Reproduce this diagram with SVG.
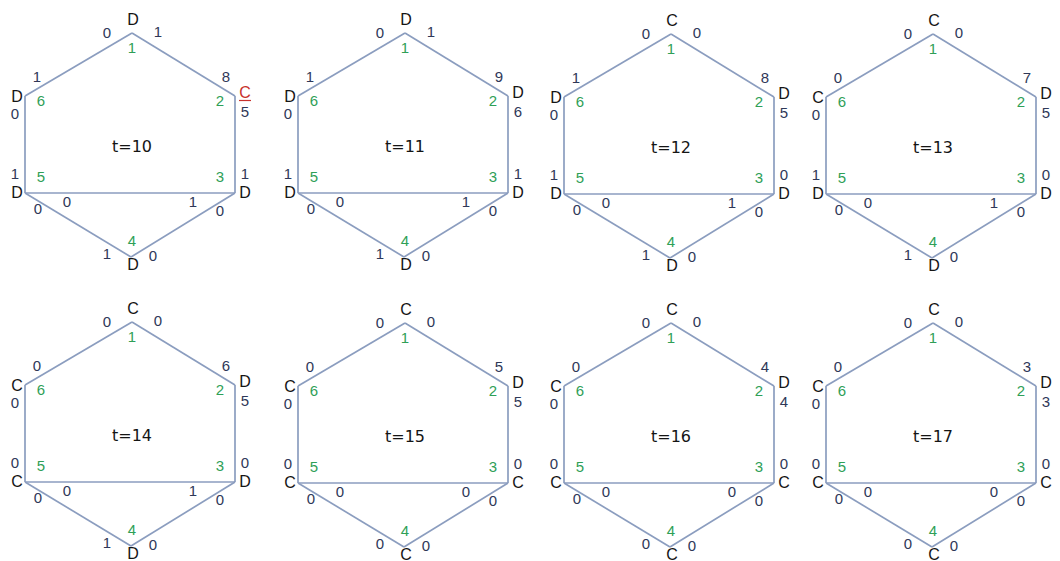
<svg xmlns="http://www.w3.org/2000/svg" xmlns:xlink="http://www.w3.org/1999/xlink" width="1060" height="561" viewBox="0 0 1060 561">
<style>
.e{stroke:#8b9dbf;stroke-width:1.7;fill:none}
text{font-family:"Liberation Sans",Arial,sans-serif;text-anchor:middle}
.n{font-size:16px;fill:#151515}
.r{font-size:16px;fill:#c8312c}
.v{font-size:15px;fill:#2f3858}
.g{font-size:15px;fill:#2f9f57}
.t{font-size:16px;fill:#151515;font-family:"DejaVu Sans",sans-serif}
</style>
<defs>
<g id="hex" class="e">
<line x1="107" y1="0" x2="210" y2="63"/>
<line x1="210" y1="63" x2="210" y2="160"/>
<line x1="210" y1="160" x2="106" y2="224"/>
<line x1="106" y1="224" x2="0" y2="160"/>
<line x1="0" y1="160" x2="0" y2="63"/>
<line x1="0" y1="63" x2="107" y2="0"/>
<line x1="0" y1="160" x2="210" y2="160"/>
</g>
</defs>
<rect width="1060" height="561" fill="#ffffff"/>

<!-- t=10 -->
<g id="panel-t10" transform="translate(25,33)">
<g id="t10-connectors"><use xlink:href="#hex" href="#hex"/></g>
<g id="t10-n1"><text class="n" x="108" y="-8">D</text><text class="g" x="107" y="20">1</text><text class="v" x="82" y="5">0</text><text class="v" x="133" y="4">1</text></g>
<g id="t10-n2"><text class="r" x="220" y="65">C</text><line x1="214" y1="67.5" x2="226" y2="67.5" stroke="#c8312c" stroke-width="1.2"/><text class="g" x="195" y="73">2</text><text class="v" x="201" y="49">8</text><text class="v" x="220" y="84">5</text></g>
<g id="t10-n3"><text class="n" x="220" y="165">D</text><text class="g" x="195" y="149">3</text><text class="v" x="220" y="146">1</text><text class="v" x="168" y="174">1</text><text class="v" x="195" y="183">0</text></g>
<g id="t10-n4"><text class="n" x="108" y="237">D</text><text class="g" x="107" y="213">4</text><text class="v" x="82" y="226">1</text><text class="v" x="128" y="228">0</text></g>
<g id="t10-n5"><text class="n" x="-8" y="165">D</text><text class="g" x="16" y="149">5</text><text class="v" x="-10" y="146">1</text><text class="v" x="42" y="174">0</text><text class="v" x="13" y="181">0</text></g>
<g id="t10-n6"><text class="n" x="-8" y="69">D</text><text class="g" x="16" y="73">6</text><text class="v" x="12" y="49">1</text><text class="v" x="-10" y="86">0</text></g>
<text class="t" x="107" y="119">t=10</text>
</g>

<!-- t=11 -->
<g id="panel-t11" transform="translate(298,33)">
<g id="t11-connectors"><use xlink:href="#hex" href="#hex"/></g>
<g id="t11-n1"><text class="n" x="108" y="-8">D</text><text class="g" x="107" y="20">1</text><text class="v" x="82" y="5">0</text><text class="v" x="133" y="4">1</text></g>
<g id="t11-n2"><text class="n" x="220" y="65">D</text><text class="g" x="195" y="73">2</text><text class="v" x="201" y="49">9</text><text class="v" x="220" y="84">6</text></g>
<g id="t11-n3"><text class="n" x="220" y="165">D</text><text class="g" x="195" y="149">3</text><text class="v" x="220" y="146">1</text><text class="v" x="168" y="174">1</text><text class="v" x="195" y="183">0</text></g>
<g id="t11-n4"><text class="n" x="108" y="237">D</text><text class="g" x="107" y="213">4</text><text class="v" x="82" y="226">1</text><text class="v" x="128" y="228">0</text></g>
<g id="t11-n5"><text class="n" x="-8" y="165">D</text><text class="g" x="16" y="149">5</text><text class="v" x="-10" y="146">1</text><text class="v" x="42" y="174">0</text><text class="v" x="13" y="181">0</text></g>
<g id="t11-n6"><text class="n" x="-8" y="69">D</text><text class="g" x="16" y="73">6</text><text class="v" x="12" y="49">1</text><text class="v" x="-10" y="86">0</text></g>
<text class="t" x="107" y="119">t=11</text>
</g>

<!-- t=12 -->
<g id="panel-t12" transform="translate(564,34)">
<g id="t12-connectors"><use xlink:href="#hex" href="#hex"/></g>
<g id="t12-n1"><text class="n" x="108" y="-8">C</text><text class="g" x="107" y="20">1</text><text class="v" x="82" y="5">0</text><text class="v" x="133" y="4">0</text></g>
<g id="t12-n2"><text class="n" x="220" y="65">D</text><text class="g" x="195" y="73">2</text><text class="v" x="201" y="49">8</text><text class="v" x="220" y="84">5</text></g>
<g id="t12-n3"><text class="n" x="220" y="165">D</text><text class="g" x="195" y="149">3</text><text class="v" x="220" y="146">0</text><text class="v" x="168" y="174">1</text><text class="v" x="195" y="183">0</text></g>
<g id="t12-n4"><text class="n" x="108" y="237">D</text><text class="g" x="107" y="213">4</text><text class="v" x="82" y="226">1</text><text class="v" x="128" y="228">0</text></g>
<g id="t12-n5"><text class="n" x="-8" y="165">D</text><text class="g" x="16" y="149">5</text><text class="v" x="-10" y="146">1</text><text class="v" x="42" y="174">0</text><text class="v" x="13" y="181">0</text></g>
<g id="t12-n6"><text class="n" x="-8" y="69">D</text><text class="g" x="16" y="73">6</text><text class="v" x="12" y="49">1</text><text class="v" x="-10" y="86">0</text></g>
<text class="t" x="107" y="119">t=12</text>
</g>

<!-- t=13 -->
<g id="panel-t13" transform="translate(826,34)">
<g id="t13-connectors"><use xlink:href="#hex" href="#hex"/></g>
<g id="t13-n1"><text class="n" x="108" y="-8">C</text><text class="g" x="107" y="20">1</text><text class="v" x="82" y="5">0</text><text class="v" x="133" y="4">0</text></g>
<g id="t13-n2"><text class="n" x="220" y="65">D</text><text class="g" x="195" y="73">2</text><text class="v" x="201" y="49">7</text><text class="v" x="220" y="84">5</text></g>
<g id="t13-n3"><text class="n" x="220" y="165">D</text><text class="g" x="195" y="149">3</text><text class="v" x="220" y="146">0</text><text class="v" x="168" y="174">1</text><text class="v" x="195" y="183">0</text></g>
<g id="t13-n4"><text class="n" x="108" y="237">D</text><text class="g" x="107" y="213">4</text><text class="v" x="82" y="226">1</text><text class="v" x="128" y="228">0</text></g>
<g id="t13-n5"><text class="n" x="-8" y="165">D</text><text class="g" x="16" y="149">5</text><text class="v" x="-10" y="146">1</text><text class="v" x="42" y="174">0</text><text class="v" x="13" y="181">0</text></g>
<g id="t13-n6"><text class="n" x="-8" y="69">C</text><text class="g" x="16" y="73">6</text><text class="v" x="12" y="49">0</text><text class="v" x="-10" y="86">0</text></g>
<text class="t" x="107" y="119">t=13</text>
</g>

<!-- t=14 -->
<g id="panel-t14" transform="translate(25,322)">
<g id="t14-connectors"><use xlink:href="#hex" href="#hex"/></g>
<g id="t14-n1"><text class="n" x="108" y="-8">C</text><text class="g" x="107" y="20">1</text><text class="v" x="82" y="5">0</text><text class="v" x="133" y="4">0</text></g>
<g id="t14-n2"><text class="n" x="220" y="65">D</text><text class="g" x="195" y="73">2</text><text class="v" x="201" y="49">6</text><text class="v" x="220" y="84">5</text></g>
<g id="t14-n3"><text class="n" x="220" y="165">D</text><text class="g" x="195" y="149">3</text><text class="v" x="220" y="146">0</text><text class="v" x="168" y="174">1</text><text class="v" x="195" y="183">0</text></g>
<g id="t14-n4"><text class="n" x="108" y="237">D</text><text class="g" x="107" y="213">4</text><text class="v" x="82" y="226">1</text><text class="v" x="128" y="228">0</text></g>
<g id="t14-n5"><text class="n" x="-8" y="165">C</text><text class="g" x="16" y="149">5</text><text class="v" x="-10" y="146">0</text><text class="v" x="42" y="174">0</text><text class="v" x="13" y="181">0</text></g>
<g id="t14-n6"><text class="n" x="-8" y="69">C</text><text class="g" x="16" y="73">6</text><text class="v" x="12" y="49">0</text><text class="v" x="-10" y="86">0</text></g>
<text class="t" x="107" y="119">t=14</text>
</g>

<!-- t=15 -->
<g id="panel-t15" transform="translate(298,323)">
<g id="t15-connectors"><use xlink:href="#hex" href="#hex"/></g>
<g id="t15-n1"><text class="n" x="108" y="-8">C</text><text class="g" x="107" y="20">1</text><text class="v" x="82" y="5">0</text><text class="v" x="133" y="4">0</text></g>
<g id="t15-n2"><text class="n" x="220" y="65">D</text><text class="g" x="195" y="73">2</text><text class="v" x="201" y="49">5</text><text class="v" x="220" y="84">5</text></g>
<g id="t15-n3"><text class="n" x="220" y="165">C</text><text class="g" x="195" y="149">3</text><text class="v" x="220" y="146">0</text><text class="v" x="168" y="174">0</text><text class="v" x="195" y="183">0</text></g>
<g id="t15-n4"><text class="n" x="108" y="237">C</text><text class="g" x="107" y="213">4</text><text class="v" x="82" y="226">0</text><text class="v" x="128" y="228">0</text></g>
<g id="t15-n5"><text class="n" x="-8" y="165">C</text><text class="g" x="16" y="149">5</text><text class="v" x="-10" y="146">0</text><text class="v" x="42" y="174">0</text><text class="v" x="13" y="181">0</text></g>
<g id="t15-n6"><text class="n" x="-8" y="69">C</text><text class="g" x="16" y="73">6</text><text class="v" x="12" y="49">0</text><text class="v" x="-10" y="86">0</text></g>
<text class="t" x="107" y="119">t=15</text>
</g>

<!-- t=16 -->
<g id="panel-t16" transform="translate(564,323)">
<g id="t16-connectors"><use xlink:href="#hex" href="#hex"/></g>
<g id="t16-n1"><text class="n" x="108" y="-8">C</text><text class="g" x="107" y="20">1</text><text class="v" x="82" y="5">0</text><text class="v" x="133" y="4">0</text></g>
<g id="t16-n2"><text class="n" x="220" y="65">D</text><text class="g" x="195" y="73">2</text><text class="v" x="201" y="49">4</text><text class="v" x="220" y="84">4</text></g>
<g id="t16-n3"><text class="n" x="220" y="165">C</text><text class="g" x="195" y="149">3</text><text class="v" x="220" y="146">0</text><text class="v" x="168" y="174">0</text><text class="v" x="195" y="183">0</text></g>
<g id="t16-n4"><text class="n" x="108" y="237">C</text><text class="g" x="107" y="213">4</text><text class="v" x="82" y="226">0</text><text class="v" x="128" y="228">0</text></g>
<g id="t16-n5"><text class="n" x="-8" y="165">C</text><text class="g" x="16" y="149">5</text><text class="v" x="-10" y="146">0</text><text class="v" x="42" y="174">0</text><text class="v" x="13" y="181">0</text></g>
<g id="t16-n6"><text class="n" x="-8" y="69">C</text><text class="g" x="16" y="73">6</text><text class="v" x="12" y="49">0</text><text class="v" x="-10" y="86">0</text></g>
<text class="t" x="107" y="119">t=16</text>
</g>

<!-- t=17 -->
<g id="panel-t17" transform="translate(826,323)">
<g id="t17-connectors"><use xlink:href="#hex" href="#hex"/></g>
<g id="t17-n1"><text class="n" x="108" y="-8">C</text><text class="g" x="107" y="20">1</text><text class="v" x="82" y="5">0</text><text class="v" x="133" y="4">0</text></g>
<g id="t17-n2"><text class="n" x="220" y="65">D</text><text class="g" x="195" y="73">2</text><text class="v" x="201" y="49">3</text><text class="v" x="220" y="84">3</text></g>
<g id="t17-n3"><text class="n" x="220" y="165">C</text><text class="g" x="195" y="149">3</text><text class="v" x="220" y="146">0</text><text class="v" x="168" y="174">0</text><text class="v" x="195" y="183">0</text></g>
<g id="t17-n4"><text class="n" x="108" y="237">C</text><text class="g" x="107" y="213">4</text><text class="v" x="82" y="226">0</text><text class="v" x="128" y="228">0</text></g>
<g id="t17-n5"><text class="n" x="-8" y="165">C</text><text class="g" x="16" y="149">5</text><text class="v" x="-10" y="146">0</text><text class="v" x="42" y="174">0</text><text class="v" x="13" y="181">0</text></g>
<g id="t17-n6"><text class="n" x="-8" y="69">C</text><text class="g" x="16" y="73">6</text><text class="v" x="12" y="49">0</text><text class="v" x="-10" y="86">0</text></g>
<text class="t" x="107" y="119">t=17</text>
</g>
</svg>
